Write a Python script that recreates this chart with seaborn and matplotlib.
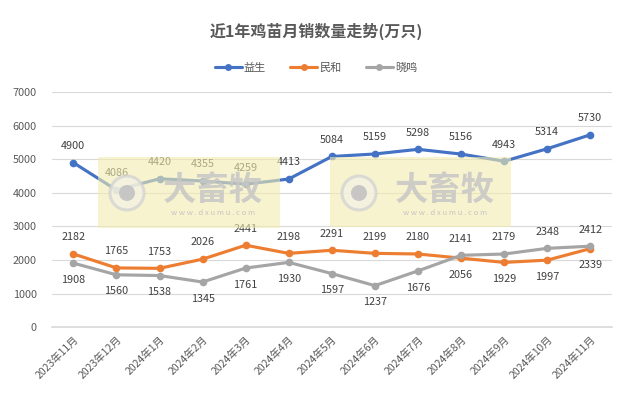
import matplotlib
matplotlib.use("Agg")
import matplotlib.pyplot as plt
import seaborn as sns
import pandas as pd
from matplotlib.patches import Rectangle, Ellipse

months = ["2023年11月", "2023年12月", "2024年1月", "2024年2月", "2024年3月", "2024年4月",
          "2024年5月", "2024年6月", "2024年7月", "2024年8月", "2024年9月", "2024年10月", "2024年11月"]
yisheng = [4900, 4086, 4420, 4355, 4259, 4413, 5084, 5159, 5298, 5156, 4943, 5314, 5730]
minhe = [2182, 1765, 1753, 2026, 2441, 2198, 2291, 2199, 2180, 2056, 1929, 1997, 2339]
xiaoming = [1908, 1560, 1538, 1345, 1761, 1930, 1597, 1237, 1676, 2141, 2179, 2348, 2412]
series_names = ["益生", "民和", "晓鸣"]
colors = ["#4472C4", "#ED7D31", "#A5A5A5"]
yticks = [0, 1000, 2000, 3000, 4000, 5000, 6000, 7000]
title = "近1年鸡苗月销数量走势(万只)"

sns.set_theme(style="white")
plt.rcParams['font.family'] = ['Noto Sans CJK SC', 'DejaVu Sans']
txt = "#595959"

rows = []
for name, vals in zip(series_names, [yisheng, minhe, xiaoming]):
    for i, v in enumerate(vals):
        rows.append({"idx": i, "month": months[i], "value": v, "series": name})
df = pd.DataFrame(rows)

fig = plt.figure(figsize=(6.32, 3.99), dpi=100)
ax = fig.add_axes([0.082, 0.180, 0.886, 0.589])

sns.lineplot(data=df, x="idx", y="value", hue="series", hue_order=series_names,
             palette=colors, marker="o", markersize=5.5, markeredgewidth=0,
             linewidth=2.25, ax=ax, legend=False, zorder=3)

ax.set_xlim(-0.5, len(months) - 0.5)
ax.set_ylim(0, 7000)
ax.set_yticks(yticks)
ax.set_yticklabels([str(t) for t in yticks], fontsize=7.8, color=txt)
ax.set_xticks(range(len(months)))
ax.set_xticklabels(months, rotation=45, ha="right", rotation_mode="anchor",
                   fontsize=7.5, color=txt)
ax.tick_params(axis="x", length=3, color="#d9d9d9", pad=2)
ax.tick_params(axis="y", length=0, pad=11)
ax.set_xlabel("")
ax.set_ylabel("")
ax.grid(axis="y", color="#d9d9d9", linewidth=0.8)
ax.set_axisbelow(True)
for s in ["top", "right", "left"]:
    ax.spines[s].set_visible(False)
ax.spines["bottom"].set_color("#d9d9d9")

# data labels
for i, v in enumerate(yisheng):
    ax.annotate(str(v), (i, v), xytext=(0, 12), textcoords="offset points",
                ha="center", va="center", fontsize=7.8, color="#404040")
for i in range(len(months)):
    a, b = minhe[i], xiaoming[i]
    oa = 12 if a >= b else -12
    ob = 12 if b > a else -12
    ax.annotate(str(a), (i, a), xytext=(0, oa), textcoords="offset points",
                ha="center", va="center", fontsize=7.8, color="#404040")
    ax.annotate(str(b), (i, b), xytext=(0, ob), textcoords="offset points",
                ha="center", va="center", fontsize=7.8, color="#404040")

# title
fig.text(0.5, 0.922, title, ha="center", va="center", fontsize=11.5,
         fontweight="bold", color=txt)

# legend
handles = [plt.Line2D([0], [0], color=c, lw=2.25, marker="o", markersize=5,
                      markeredgewidth=0) for c in colors]
fig.legend(handles, series_names, loc="center", bbox_to_anchor=(0.5, 0.83),
           ncol=3, frameon=False, fontsize=8, labelcolor=txt,
           handlelength=2.4, columnspacing=2.2, handletextpad=0.2)

# watermarks
W, H = 632, 399
for (x0, y0, x1, y1) in [(98, 157, 280, 228), (330, 157, 511, 227)]:
    fx0, fx1 = x0 / W, x1 / W
    fy0, fy1 = 1 - y1 / H, 1 - y0 / H
    fig.patches.append(Rectangle((fx0, fy0), fx1 - fx0, fy1 - fy0,
                                 transform=fig.transFigure, facecolor="#F3ECB0",
                                 alpha=0.6, edgecolor="none", zorder=5))
    cx, cy = (x0 + 29) / W, 1 - (y0 + 36) / H
    fig.patches.append(Ellipse((cx, cy), 34 / W, 34 / H, transform=fig.transFigure,
                               facecolor="#f4f2e4", edgecolor="#d2d2d2", linewidth=2.2,
                               alpha=0.75, zorder=6))
    fig.patches.append(Ellipse((cx, cy), 16 / W, 16 / H, transform=fig.transFigure,
                               facecolor="#c2c2c2", edgecolor="none",
                               alpha=0.9, zorder=6))
    fig.text((x0 + 115) / W, 1 - (y0 + 33) / H, "大畜牧", ha="center", va="center",
             fontsize=24, fontweight="bold", color="#c6c6c6", alpha=0.85, zorder=6)
    fig.text((x0 + 115) / W, 1 - (y0 + 56) / H, "w w w . d x u m u . c o m", ha="center",
             va="center", fontsize=5.5, color="#c0c0c0", alpha=0.9, zorder=6)

fig.savefig("out.png", dpi=100)
